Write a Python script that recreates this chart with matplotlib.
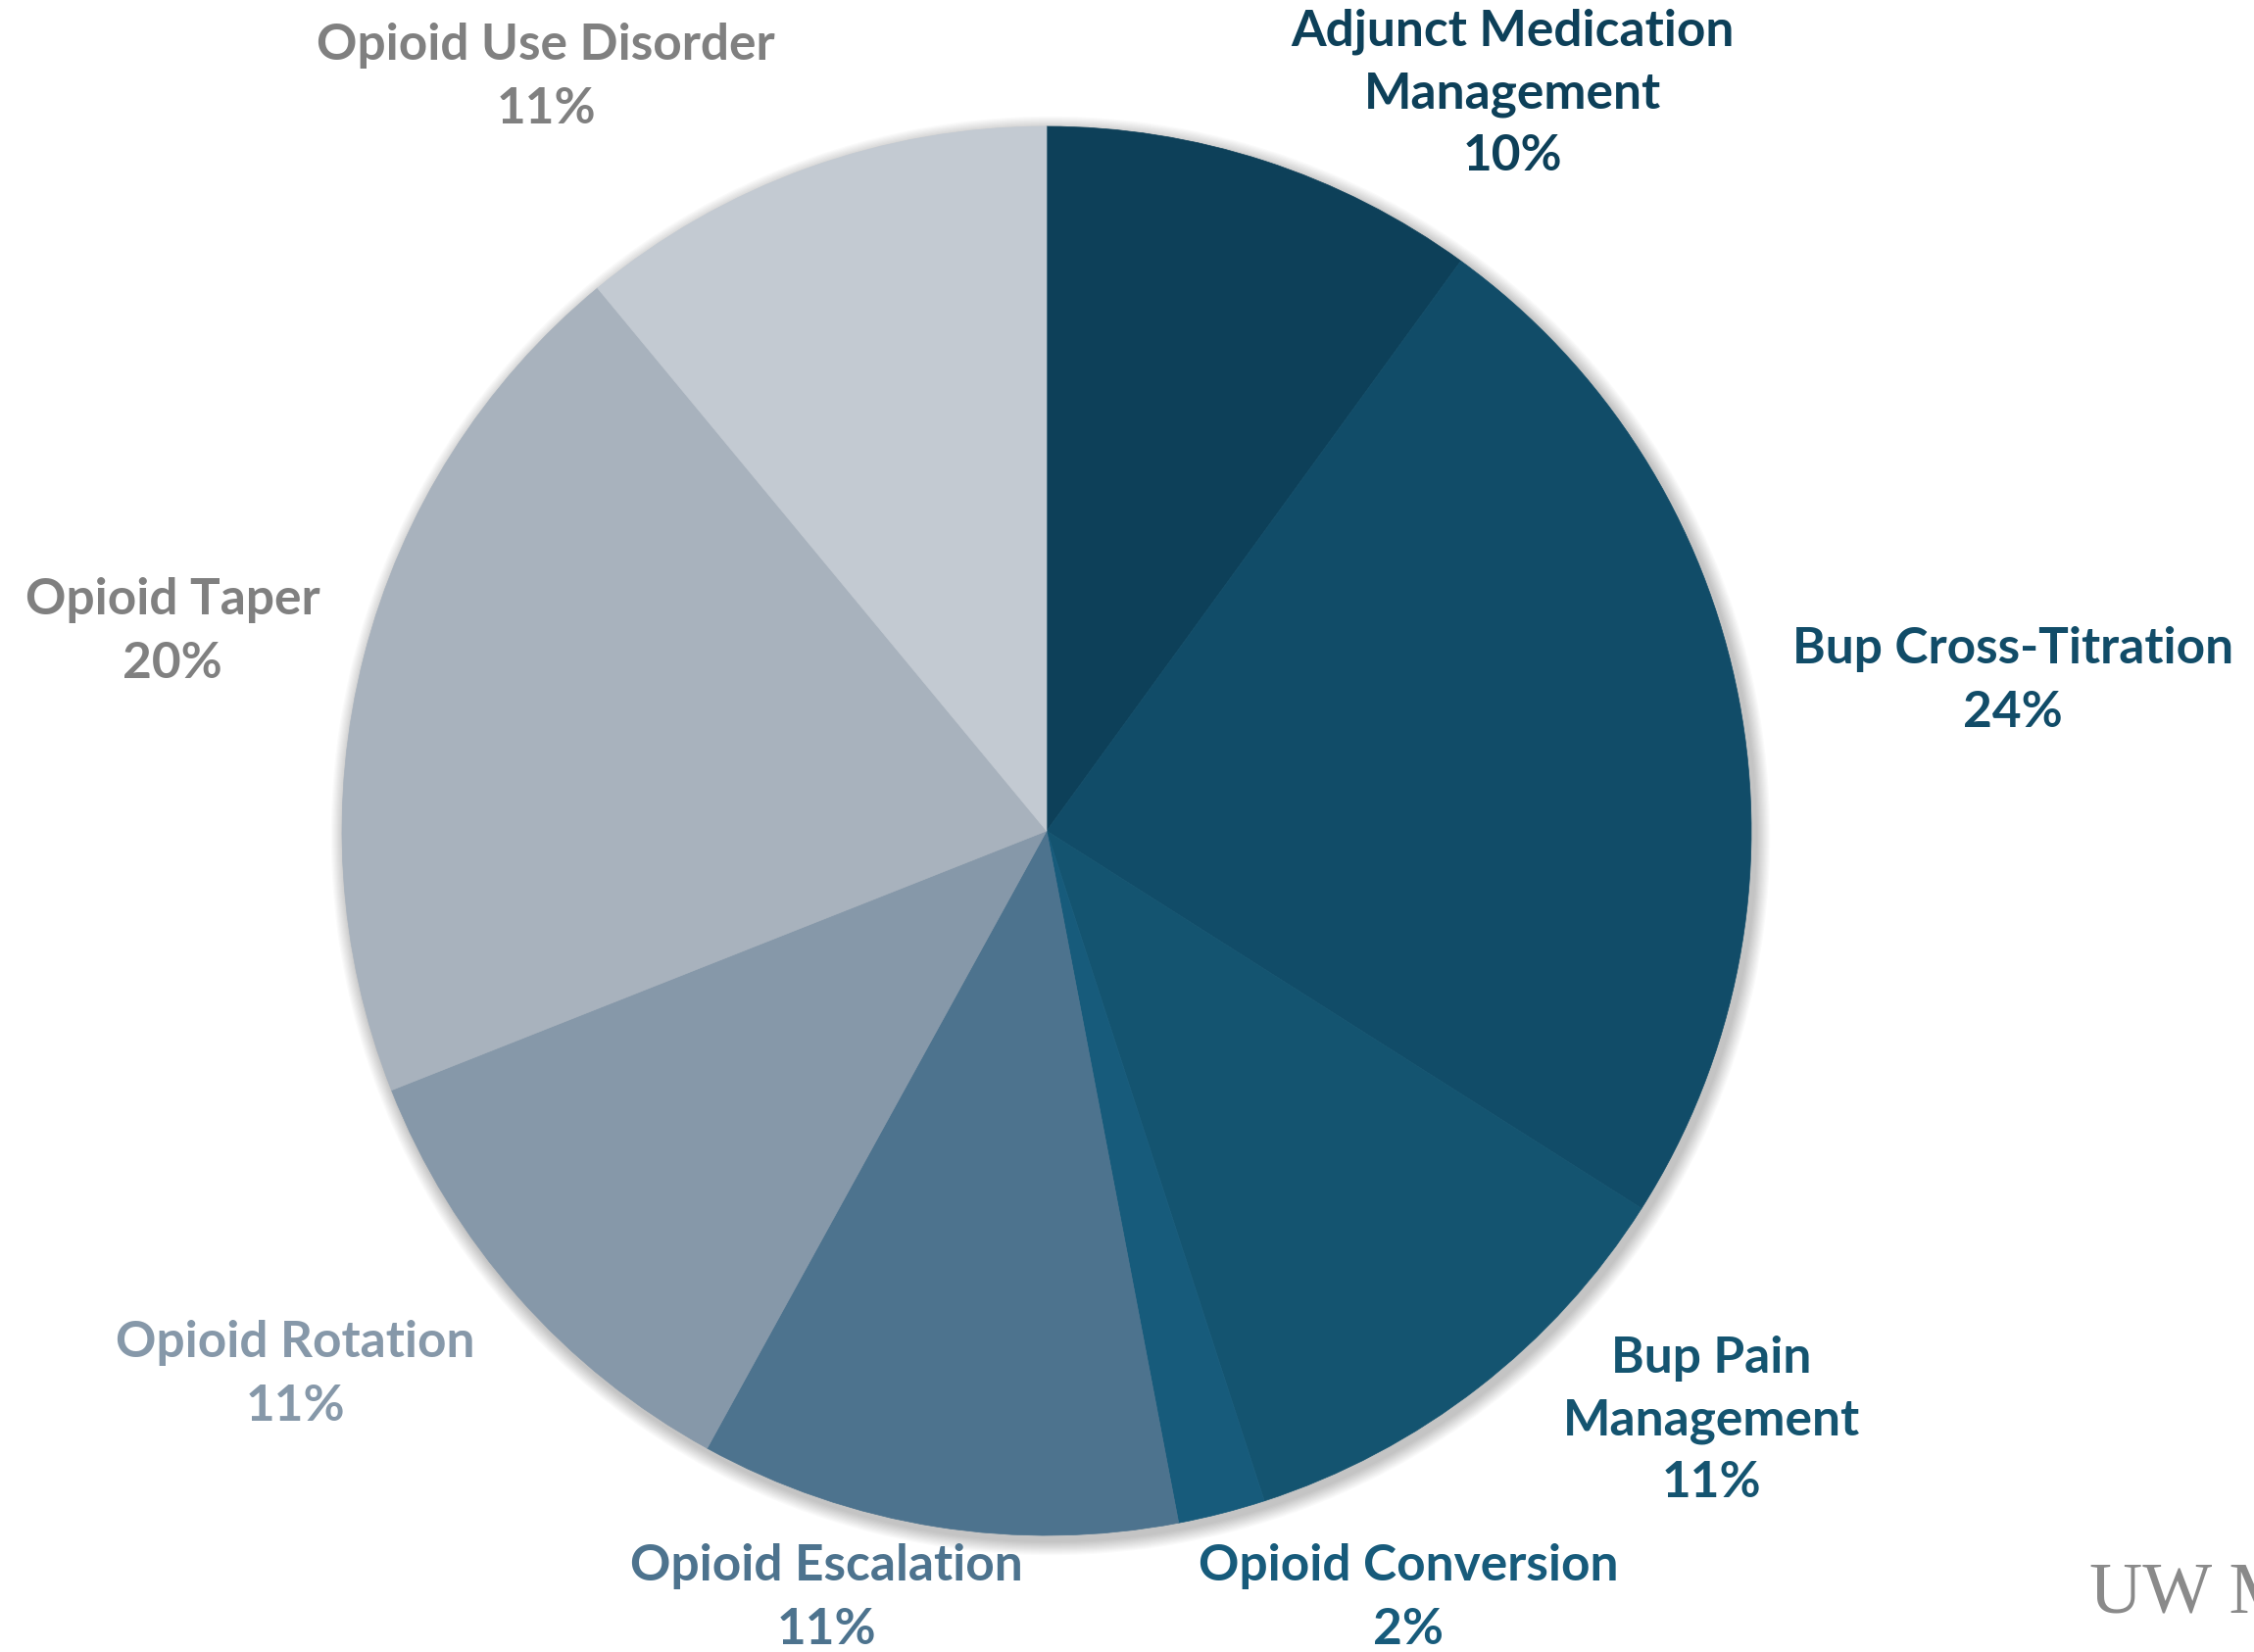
import matplotlib
matplotlib.use("Agg")
import matplotlib.pyplot as plt
from matplotlib.patches import Circle

categories = ["Adjunct Medication\nManagement", "Bup Cross-Titration", "Bup Pain\nManagement",
              "Opioid Conversion", "Opioid Escalation", "Opioid Rotation", "Opioid Taper",
              "Opioid Use Disorder"]
values = [10, 24, 11, 2, 11, 11, 20, 11]
pct_labels = ["10%", "24%", "11%", "2%", "11%", "11%", "20%", "11%"]

slice_colors = ["#0D4059", "#114C68", "#145470", "#175B7B", "#4D738E", "#8698A9", "#A8B2BD", "#C3CAD2"]
label_colors = ["#0D4059", "#114C68", "#145470", "#175B7B", "#4D738E", "#8698A9", "#808080", "#808080"]
# label centre positions in pixels (x, y of first line)
label_pos = [(1543, 32), (2054, 663), (1746, 1386), (1437, 1599), (843, 1599),
             (301, 1371), (176, 613), (557, 47)]

W, H = 2300, 1686
fig = plt.figure(figsize=(W / 100, H / 100), dpi=100)
ax = fig.add_axes([0, 0, 1, 1])
ax.set_xlim(0, W)
ax.set_ylim(0, H)
ax.axis("off")

cx, cy, r = 1068, H - 848, 719

# soft shadow
for i in range(12):
    ax.add_patch(Circle((cx + 4, cy - 5), r + 2 + i * 1.2, color="black", alpha=0.018, lw=0, zorder=0))

wedges, _ = ax.pie(values, colors=slice_colors, startangle=90, counterclock=False,
                   center=(cx, cy), radius=r, frame=True,
                   wedgeprops=dict(linewidth=0.5))
for w, c in zip(wedges, slice_colors):
    w.set_edgecolor(c)
ax.set_xlim(0, W)
ax.set_ylim(0, H)
ax.set_aspect("equal")
ax.axis("off")

ls = 64
for cat, pct, col, (x, y) in zip(categories, pct_labels, label_colors, label_pos):
    lines = cat.split("\n") + [pct]
    for k, line in enumerate(lines):
        ax.text(x, H - (y + k * ls), line, ha="center", va="center", color=col,
                fontsize=37, fontweight="bold", family="Lato")

ax.text(2132, H - 1628, "UW M", ha="left", va="center", color="#8a8a8a",
        fontsize=54, family="Liberation Serif")

fig.savefig("out.png", dpi=100)
